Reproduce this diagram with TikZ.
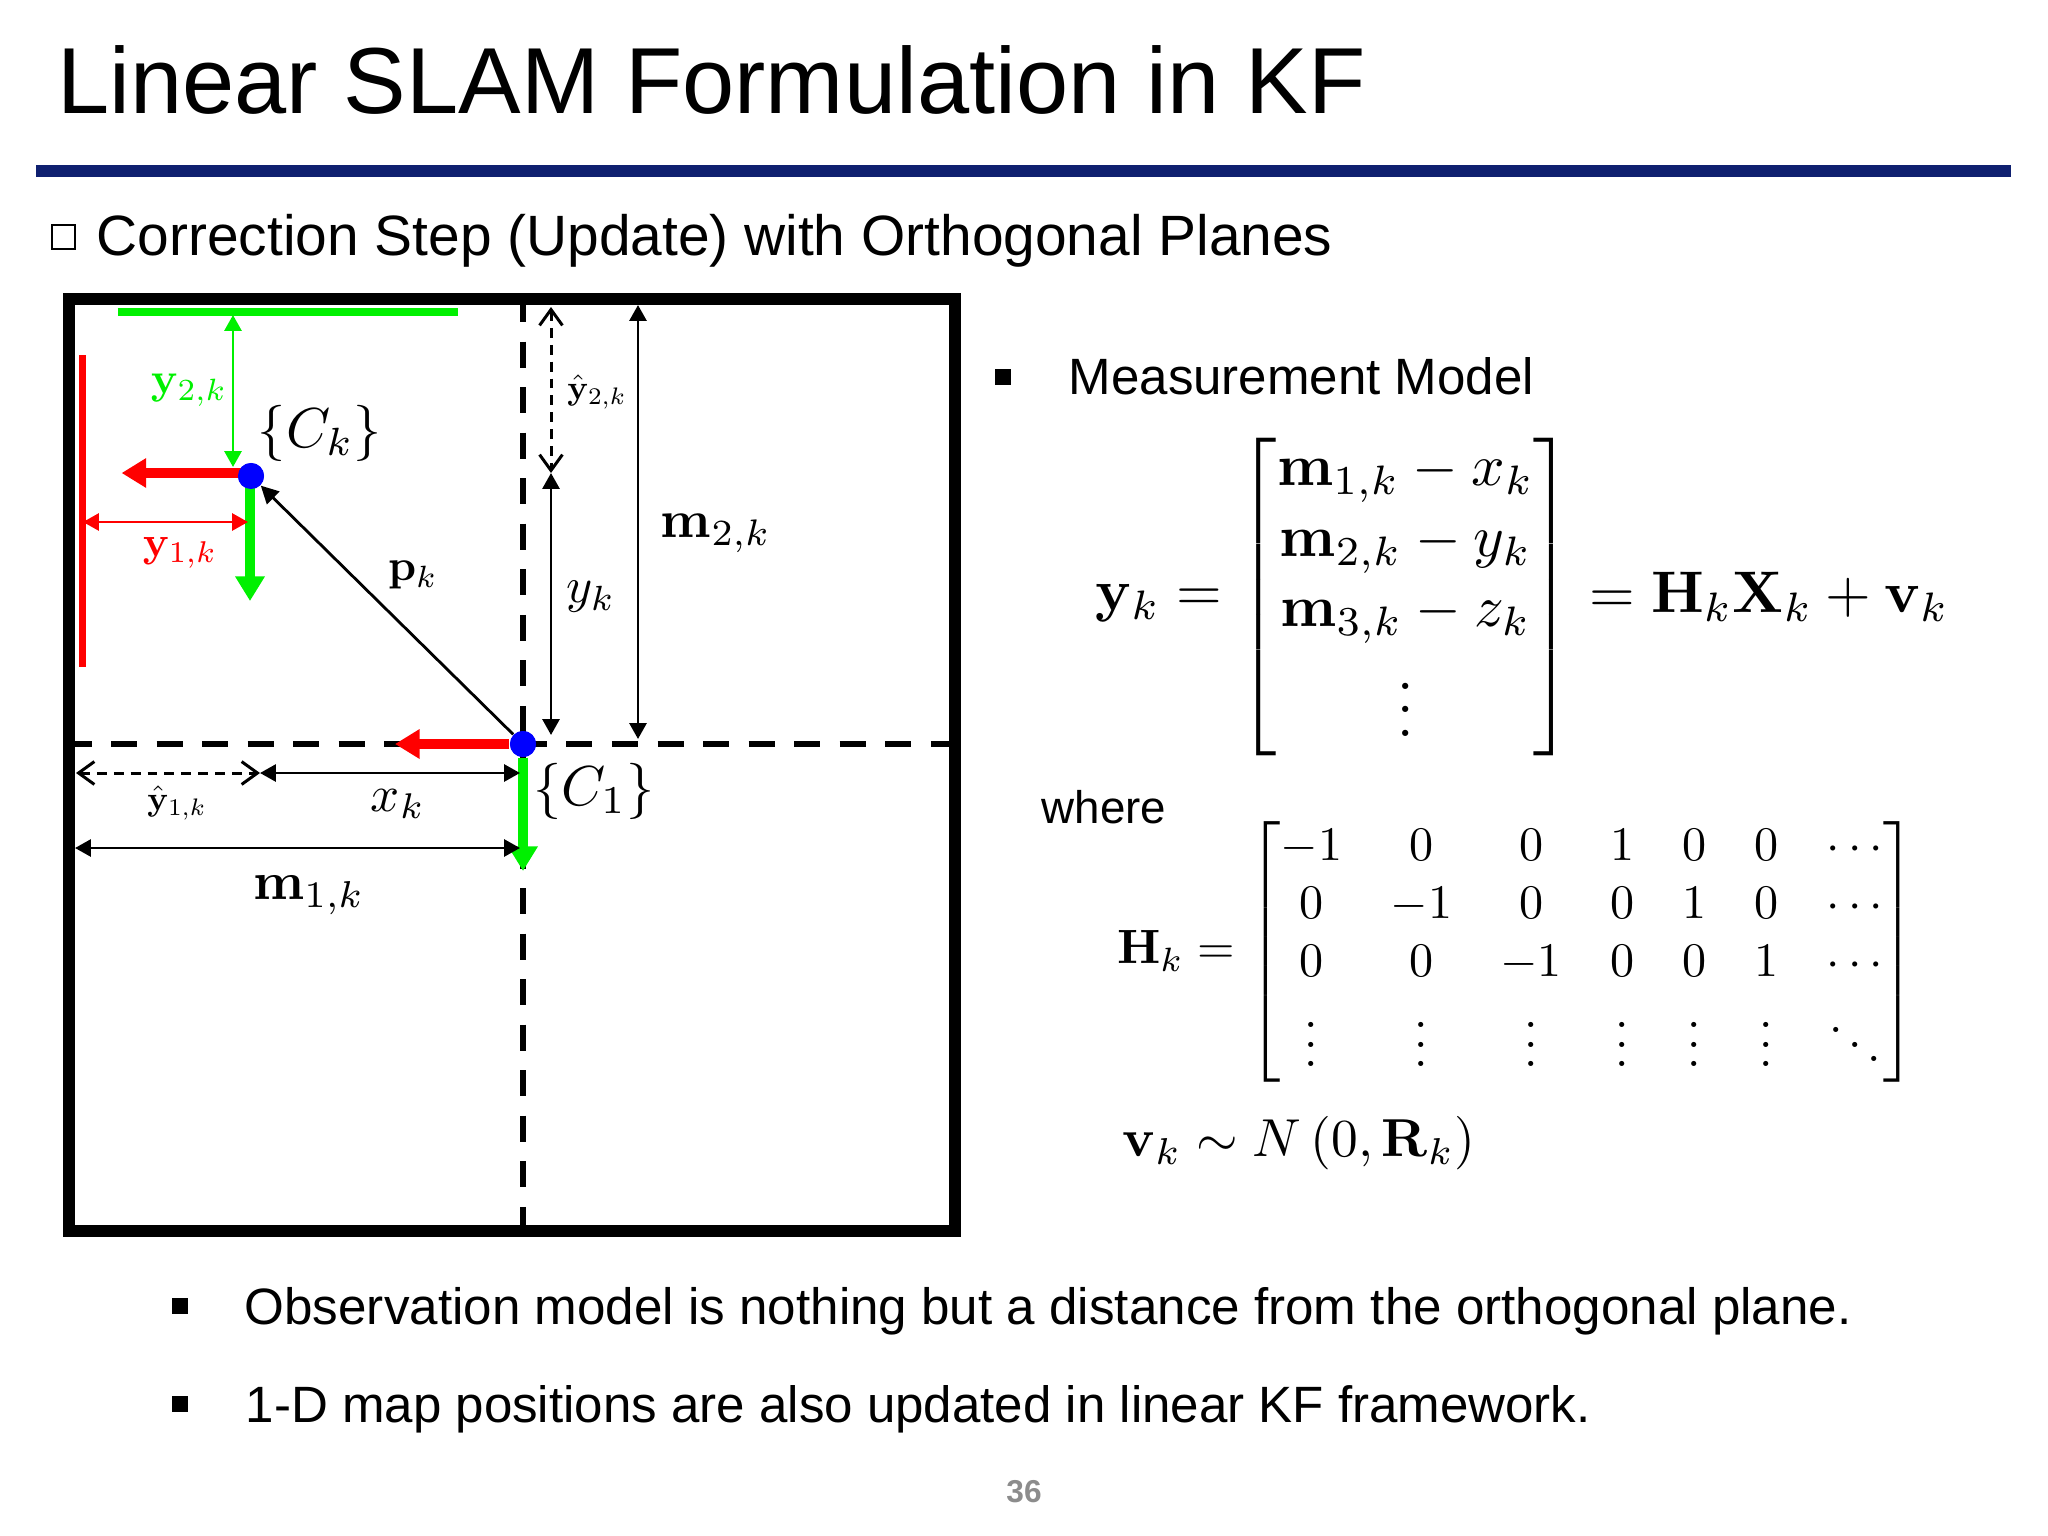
\documentclass[tikz,border=0pt]{standalone}
\usepackage{amsmath}
\usepackage[no-math]{fontspec}
\newfontfamily\slidefont{Liberation Sans}
\usetikzlibrary{arrows.meta}
\definecolor{rulenavy}{RGB}{15,32,112}
\definecolor{planegreen}{RGB}{0,240,0}
\tikzset{
  slidetext/.style={inner sep=0pt,anchor=base west,font=\slidefont},
  wall/.style={line width=3.6pt},
  dashline/.style={line width=1.85pt,dash pattern=on 7.4pt off 5.55pt},
  plane/.style={line width=2pt},
  axisarrow/.style={line width=2.6pt,-{Triangle[length=7pt,width=8pt]}},
  dimarrow/.style={line width=0.8pt,{Triangle[length=4.5pt,width=4.8pt]}-{Triangle[length=4.5pt,width=4.8pt]}},
  hatarrow/.style={line width=0.85pt,dash pattern=on 2.8pt off 2pt,{Straight Barb[length=4.5pt,width=6.5pt]}-{Straight Barb[length=4.5pt,width=6.5pt]}},
  camdot/.style={circle,fill=blue,inner sep=0pt,minimum size=7.4pt},
  sqbullet/.style={fill=black,inner sep=0pt,minimum size=4.3pt},
  mathlabel/.style={inner sep=0pt}
}
\begin{document}
\begin{tikzpicture}[x=0.01cm,y=-0.01cm]
    \useasboundingbox (0,0) rectangle (2048,1536);
    \node[slidetext,font=\slidefont\fontsize{26.67}{32}\selectfont] (title) at (56.5,113) {Linear SLAM Formulation in KF};
    \fill[rulenavy] (36,165) rectangle (2011,177);
    \node[draw,line width=0.6pt,inner sep=0pt,minimum size=6.6pt] (box) at (63.5,237) {};
    \node[slidetext,font=\slidefont\fontsize{16.17}{19}\selectfont] (heading) at (96,255) {Correction Step (Update) with Orthogonal Planes};

    \coordinate (hleft) at (65.5,744);
    \coordinate (hright) at (955,744);
    \coordinate (vtop) at (523,296);
    \coordinate (vbot) at (523,1231);
    \draw[dashline] (hleft) -- (hright);
    \draw[dashline] (vtop) -- (vbot);
    \draw[wall] (69,299) rectangle (955,1231);

    \coordinate (gleft) at (117.5,312);
    \coordinate (gright) at (458,312);
    \coordinate (rtop) at (82.4,355);
    \coordinate (rbot) at (82.4,667);
    \draw[plane,planegreen] (gleft) -- (gright);
    \draw[plane,red] (rtop) -- (rbot);

    \node[camdot] (ck) at (251,476) {};
    \node[camdot] (c1) at (523,744) {};
    \coordinate (ckred) at (121.6,473);
    \coordinate (ckgreen) at (250,601);
    \coordinate (c1red) at (395,744);
    \coordinate (c1green) at (523,871);
    \draw[axisarrow,red] (ck.center |- ckred) -- (ckred);
    \draw[axisarrow,planegreen] (ck.center -| ckgreen) -- (ckgreen);
    \draw[axisarrow,red] (c1) -- (c1red);
    \draw[axisarrow,planegreen] (c1) -- (c1green);
    \node[camdot] at (ck) {};
    \node[camdot] at (c1) {};

    \coordinate (g2a) at (233,315);
    \coordinate (g2b) at (233,467);
    \coordinate (r1a) at (83,522);
    \coordinate (r1b) at (248,522);
    \draw[dimarrow,planegreen] (g2a) -- (g2b);
    \draw[dimarrow,red] (r1a) -- (r1b);
    \draw[-{Triangle[length=5pt,width=5pt]},line width=0.8pt] (c1) -- (ck);

    \coordinate (h2a) at (551,307);
    \coordinate (h2b) at (551,473);
    \coordinate (yka) at (551,473);
    \coordinate (ykb) at (551,735);
    \coordinate (m2a) at (638,305);
    \coordinate (m2b) at (638,739);
    \coordinate (h1a) at (76,773);
    \coordinate (h1b) at (260,773);
    \coordinate (xka) at (260,773);
    \coordinate (xkb) at (520,773);
    \coordinate (m1a) at (75,848);
    \coordinate (m1b) at (520,848);
    \draw[hatarrow] (h2a) -- (h2b);
    \draw[dimarrow] (yka) -- (ykb);
    \draw[dimarrow] (m2a) -- (m2b);
    \draw[hatarrow] (h1a) -- (h1b);
    \draw[dimarrow] (xka) -- (xkb);
    \draw[dimarrow] (m1a) -- (m1b);

    \node[mathlabel,scale=1.25,text=planegreen] (y2k) at (189,390) {$\mathbf{y}_{2,k}$};
    \node[mathlabel,scale=1.22,text=red] (y1k) at (180,553) {$\mathbf{y}_{1,k}$};
    \node[mathlabel,scale=1.6] (ckl) at (320,433) {$\{C_k\}$};
    \node[mathlabel,scale=1.6] (c1l) at (594,791) {$\{C_1\}$};
    \node[mathlabel,scale=1.25] (pk) at (413,575) {$\mathbf{p}_k$};
    \node[mathlabel,scale=0.97] (h2k) at (597,392) {$\hat{\mathbf{y}}_{2,k}$};
    \node[mathlabel,scale=0.97] (h1k) at (177,803) {$\hat{\mathbf{y}}_{1,k}$};
    \node[mathlabel,scale=1.42] (ykl) at (591,597) {$y_k$};
    \node[mathlabel,scale=1.45] (xkl) at (398,804) {$x_k$};
    \node[mathlabel,scale=1.5] (m2k) at (716,533) {$\mathbf{m}_{2,k}$};
    \node[mathlabel,scale=1.52] (m1k) at (309,895) {$\mathbf{m}_{1,k}$};

    \node[sqbullet] (b1) at (1003,377) {};
    \node[slidetext,font=\slidefont\fontsize{14.52}{18}\selectfont] (meas) at (1068,394) {Measurement Model};
    \node[slidetext,font=\slidefont\fontsize{13}{16}\selectfont] (where) at (1041,823) {where};

    \node[mathlabel,scale=1.67] (ykeq) at (1159,603) {$\mathbf{y}_k =$};
    \node[mathlabel,scale=1.67] (ykmat) at (1405.5,597) {$\begin{bmatrix}\mathbf{m}_{1,k}-x_k\\ \mathbf{m}_{2,k}-y_k\\ \mathbf{m}_{3,k}-z_k\\ \vdots\end{bmatrix}$};
    \node[mathlabel,scale=1.67] (ykrhs) at (1769,597) {$=\mathbf{H}_k\mathbf{X}_k+\mathbf{v}_k$};

    \node[mathlabel,scale=1.37] (hkeq) at (1176,951) {$\mathbf{H}_k =$};
    \node[mathlabel,scale=1.37] (hkmat) at (1582,952) {$\begin{bmatrix}-1&0&0&1&0&0&\cdots\\ 0&-1&0&0&1&0&\cdots\\ 0&0&-1&0&0&1&\cdots\\ \vdots&\vdots&\vdots&\vdots&\vdots&\vdots&\ddots\end{bmatrix}$};
    \node[mathlabel,scale=1.52] (vk) at (1299,1143) {$\mathbf{v}_k\sim N\left(0,\mathbf{R}_k\right)$};

    \node[sqbullet] (b2) at (180,1306) {};
    \node[slidetext,font=\slidefont\fontsize{14.55}{18}\selectfont] (obs) at (244,1324) {Observation model is nothing but a distance from the orthogonal plane.};
    \node[sqbullet] (b3) at (180,1404) {};
    \node[slidetext,font=\slidefont\fontsize{14.52}{18}\selectfont] (kf) at (245,1422) {1-D map positions are also updated in linear KF framework.};
    \node[inner sep=0pt,text=black!45,font=\slidefont\bfseries\fontsize{9}{11}\selectfont] (page) at (1024,1492) {36};
\end{tikzpicture}
\end{document}
